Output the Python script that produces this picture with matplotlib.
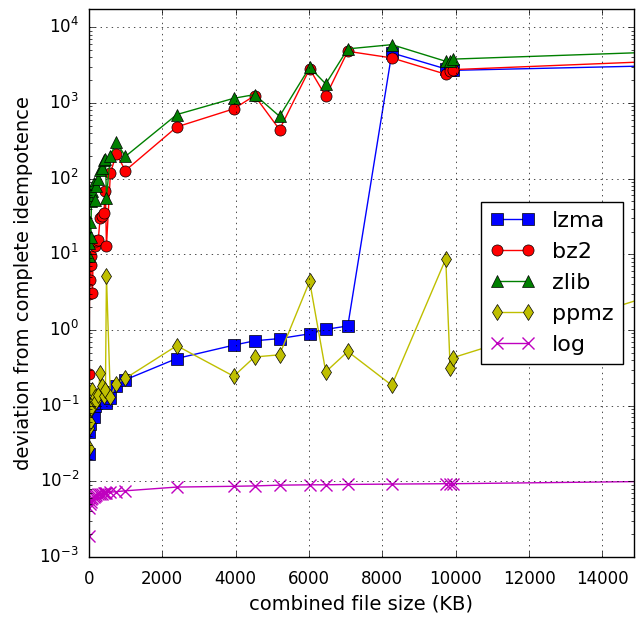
import numpy as np
import matplotlib
matplotlib.use('Agg')
import matplotlib.pyplot as plt

# combined file size (KB)
sizes = [8, 20, 35, 55, 75, 100, 130, 165, 210, 260, 310, 360, 410, 455, 483,
         590, 750, 1000, 2400, 3950, 4520, 5200, 6020, 6460, 7060, 8260,
         9730, 9850, 9920, 20000]

lzma = [0.023, 0.045, 0.058, 0.07, 0.08, 0.09, 0.07, 0.1, 0.11, 0.12, 0.138,
        0.13, 0.15, 0.12, 0.11, 0.128, 0.18, 0.22, 0.42, 0.63, 0.72, 0.77,
        0.89, 1.02, 1.13, 4590, 2820, 2700, 2700, 3480]
bz2 = [0.26, 3.0, 4.6, 7.2, 9.5, 3.1, 14.9, 13, 15, 15.7, 30, 32, 35, 68,
       12.8, 117, 213, 128, 483, 836, 1250, 445, 2820, 1227, 4820, 3940,
       2400, 2680, 2760, 4355]
zlib = [9.5, 14, 27, 17, 50, 68, 88, 53, 79, 100, 131, 139, 178, 183, 56,
        202, 303, 197, 703, 1153, 1291, 667, 2964, 1786, 5190, 5900,
        3556, 3556, 3800, 5610]
ppmz = [0.028, 0.05, 0.06, 0.09, 0.094, 0.16, 0.12, 0.13, 0.116, 0.14,
        0.27, 0.18, 0.135, 0.16, 5.1, 0.13, 0.196, 0.23, 0.62, 0.245, 0.44,
        0.47, 4.4, 0.28, 0.52, 0.186, 8.7, 0.31, 0.43, 14.4]
log = [0.0019, 0.0045, 0.0050, 0.0054, 0.0058, 0.0061, 0.0063, 0.0064,
       0.0066, 0.0067, 0.0068, 0.0069, 0.0070, 0.0070, 0.0071, 0.0072,
       0.0073, 0.0075, 0.0084, 0.0086, 0.0087, 0.0089, 0.0090, 0.0090,
       0.0091, 0.0092, 0.0093, 0.0093, 0.0093, 0.0106]

plt.style.use('classic')

fig = plt.figure(figsize=(6.43, 6.2), dpi=100, facecolor='white')
ax = fig.add_axes([0.138, 0.1016, 0.848, 0.8846])

ax.plot(sizes, lzma, 'bs-', ms=8, mec='k', label='lzma')
ax.plot(sizes, bz2, 'ro-', ms=8, mec='k', label='bz2')
ax.plot(sizes, zlib, 'g^-', ms=8, mec='k', label='zlib')
ax.plot(sizes, ppmz, 'yd-', ms=8, mec='k', label='ppmz')
ax.plot(sizes, log, 'mx-', ms=8, mew=1, label='log')

ax.set_yscale('log')
ax.set_xlim(0, 14860)
ax.set_ylim(1e-3, 1.77e4)
ax.grid(True)
ax.tick_params(axis='x', which='major', pad=9)
ax.tick_params(axis='y', which='major', pad=7)

ax.set_xlabel('combined file size (KB)', fontsize=14, labelpad=5)
ax.set_ylabel('deviation from complete idempotence', fontsize=14)

ax.legend(loc='center right', numpoints=2, fontsize=16)

fig.savefig('out.png', dpi=100, facecolor='white')
